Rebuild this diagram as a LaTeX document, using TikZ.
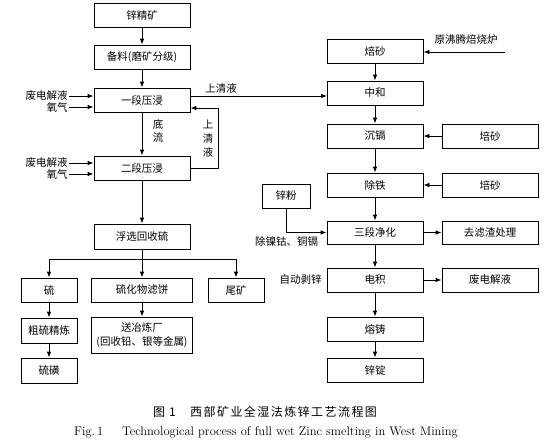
\documentclass[tikz,border=0pt]{standalone}
\usepackage{fontspec}
\newfontfamily\cjk{Noto Sans CJK SC}
\newfontfamily\cjkcap[LetterSpace=12]{Noto Sans CJK SC}
\usetikzlibrary{arrows.meta}
\begin{document}
\begin{tikzpicture}[x=1pt,y=-1pt,
  font=\cjk\fontsize{10.5}{13}\selectfont,
  line width=0.8pt,
  box/.style={draw, line width=0.8pt, minimum width=96pt, minimum height=24pt, inner sep=1pt, align=center},
  sbox/.style={box, minimum width=56pt},
  lbl/.style={inner sep=1pt},
  arr/.style={-{Latex[length=6pt,width=4.5pt]}}]
\useasboundingbox (0,0) rectangle (550,447);
% left column
\node[box] (z1) at (142,15) {锌精矿};
\node[box] (bl) at (142,57) {备料(磨矿分级)};
\node[box] (y1) at (142,100) {一段压浸};
\node[box] (y2) at (142,168) {二段压浸};
\node[box, minimum height=25pt] (fx) at (142,236.5) {浮选回收硫};
\node[sbox] (s) at (49,290) {硫};
\node[box, minimum width=101pt] (sh) at (142,290) {硫化物滤饼};
\node[sbox] (wk) at (236,290) {尾矿};
\node[sbox, minimum height=25pt] (cs) at (49,330.5) {粗硫精炼};
\node[sbox, minimum height=25pt] (lh) at (49,370.5) {硫磺};
\node[box, minimum width=101pt, minimum height=36pt, font=\cjk\fontsize{10.5}{14}\selectfont] (syl) at (142,335) {送冶炼厂\\(回收铅、银等金属)};
% left inputs
\node[lbl, anchor=east] (a1) at (69,96) {废电解液};
\node[lbl, anchor=east] (o1) at (69,107) {氧气};
\node[lbl, anchor=east] (a2) at (69,163) {废电解液};
\node[lbl, anchor=east] (o2) at (69,174) {氧气};
\draw[arr] (a1.east) -- (y1.west |- a1.east);
\draw[arr] (o1.east) -- (y1.west |- o1.east);
\draw[arr] (a2.east) -- (y2.west |- a2.east);
\draw[arr] (o2.east) -- (y2.west |- o2.east);
% main flow left
\draw[arr] (z1) -- (bl);
\draw[arr] (bl) -- (y1);
\draw[arr] (y1) -- (y2);
\node[lbl, align=center, font=\cjk\fontsize{10.5}{13}\selectfont] (dl) at (158,131) {底\\流};
\draw[arr] (y2) -- (fx);
% return
\coordinate (r1) at (218,168);
\coordinate (r2) at (218,108);
\draw[arr] (y2.east) -- (r1) -- (r2) -- (y1.east |- r2);
\node[lbl, align=center, font=\cjk\fontsize{10.5}{14}\selectfont] (sq) at (208,139) {上\\清\\液};
% branch
\coordinate (b0) at (142,259);
\coordinate (bL) at (49,259);
\coordinate (bR) at (236,259);
\draw (fx.south) -- (b0);
\draw (bL) -- (bR);
\draw[arr] (bL) -- (s.north);
\draw[arr] (b0) -- (sh.north);
\draw[arr] (bR) -- (wk.north);
\draw[arr] (s) -- (cs);
\draw[arr] (cs) -- (lh);
\draw[arr] (sh) -- (syl);
% right column
\node[box] (bs) at (375,51) {焙砂};
\node[box] (zh) at (375,93) {中和};
\node[box] (cg) at (375,136) {沉镉};
\node[box] (ct) at (375,185) {除铁};
\node[box, minimum height=23pt] (sd) at (375,232.5) {三段净化};
\node[box] (dj) at (375,280) {电积};
\node[box] (rz) at (375,329) {熔铸};
\node[box] (zd) at (375,370) {锌锭};
\node[box] (ps1) at (490,136) {培砂};
\node[box] (ps2) at (490,185) {培砂};
\node[box, minimum height=23pt] (lz) at (490,232.5) {去滤渣处理};
\node[box] (fd) at (490,280) {废电解液};
\node[box, minimum width=48pt] (xf) at (286,196) {锌粉};
% top link
\coordinate (t1) at (190,96);
\coordinate (t2) at (327,96);
\draw[arr] (t1) -- (t2);
\node[lbl] (sq2) at (221,88) {上清液};
% furnace
\node[lbl] (fl) at (466,39) {原沸腾焙烧炉};
\coordinate (f0) at (505,52);
\draw[arr] (f0) -- (bs.east |- f0);
% right flow
\draw[arr] (bs) -- (zh);
\draw[arr] (zh) -- (cg);
\draw[arr] (cg) -- (ct);
\draw[arr] (ct) -- (sd);
\draw[arr] (sd) -- (dj);
\draw[arr] (dj) -- (rz);
\draw[arr] (rz) -- (zd);
\draw[arr] (ps1) -- (cg);
\draw[arr] (ps2) -- (ct);
\draw[arr] (sd) -- (lz);
\draw[arr] (dj) -- (fd);
\coordinate (x1) at (286,232.5);
\draw[arr] (xf.south) -- (x1) -- (sd.west);
\node[lbl] (nk) at (286.5,241) {除镍钴、铜镉};
\node[lbl] (zb) at (300.5,280) {自动剥锌};
% caption
\node[lbl, font=\cjkcap\fontsize{12}{14}\selectfont] (cap1) at (265,412) {图 1\hspace{1.2em}西部矿业全湿法炼锌工艺流程图};
\node[lbl, font=\rmfamily\fontsize{12.5}{14}\selectfont] (cap2) at (266,432) {Fig.\,1\hspace{1.5em}Technological process of full wet Zinc smelting in West Mining};
\end{tikzpicture}
\end{document}
